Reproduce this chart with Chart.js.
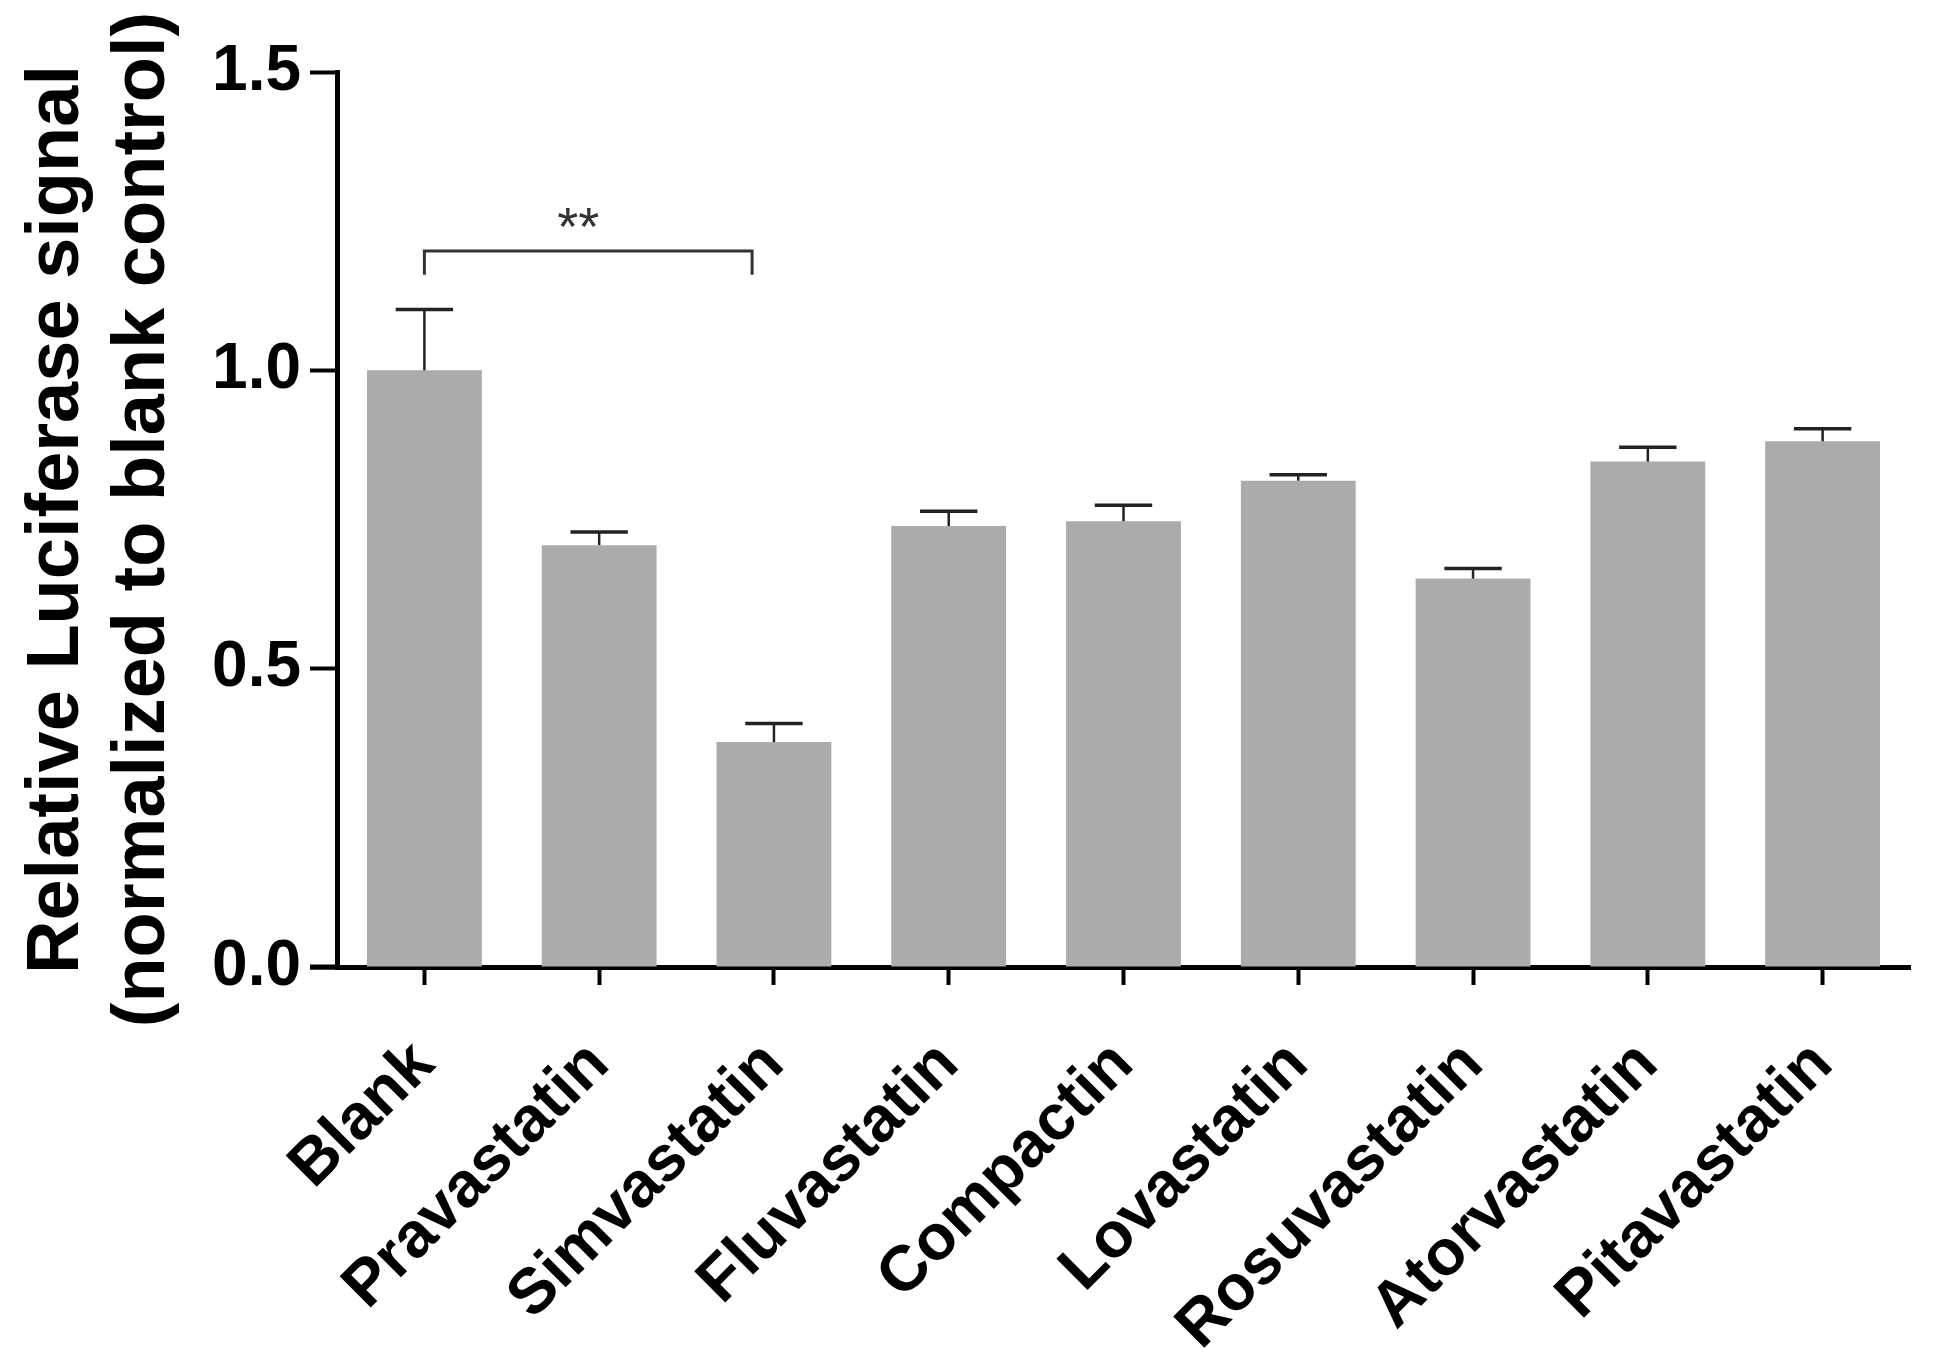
<!DOCTYPE html>
<html>
<head>
<meta charset="utf-8">
<script src="https://cdn.jsdelivr.net/npm/chart.js@4.4.1/dist/chart.umd.min.js"></script>
<style>
  html, body { margin: 0; padding: 0; background: #fff; }
  #wrap { width: 1937px; height: 1372px; }
</style>
</head>
<body>
<div id="wrap"><canvas id="chart"></canvas></div>
<script>
const categories = ['Blank', 'Pravastatin', 'Simvastatin', 'Fluvastatin', 'Compactin',
                    'Lovastatin', 'Rosuvastatin', 'Atorvastatin', 'Pitavastatin'];
const means = [1.0, 0.707, 0.377, 0.739, 0.747, 0.815, 0.651, 0.847, 0.881];
const errors = [0.102, 0.022, 0.031, 0.025, 0.027, 0.010, 0.017, 0.024, 0.021];
const yTicks = [0, 0.5, 1.0, 1.5];
// significance bracket: from category, to category, height, label
const sigFrom = 0, sigTo = 1.875, sigLevel = 1.2, sigDrop = 0.04, sigLabel = '**';

const FONT = '"Liberation Sans", Arial, Helvetica, sans-serif';

// error bars (upper only) and significance bracket
const extras = {
  id: 'extras',
  afterDatasetsDraw(chart) {
    const ctx = chart.ctx;
    const x = chart.scales.x, y = chart.scales.y;
    const meta = chart.getDatasetMeta(0);
    ctx.save();
    ctx.strokeStyle = '#222';
    meta.data.forEach(function(bar, i) {
      const top = y.getPixelForValue(means[i]);
      const end = y.getPixelForValue(means[i] + errors[i]);
      const half = bar.width / 4;
      ctx.lineWidth = 2.5;
      ctx.beginPath();
      ctx.moveTo(bar.x, top);
      ctx.lineTo(bar.x, end);
      ctx.stroke();
      ctx.lineWidth = 3.5;
      ctx.beginPath();
      ctx.moveTo(bar.x - half, end);
      ctx.lineTo(bar.x + half, end);
      ctx.stroke();
    });

    // bracket
    const x0 = x.getPixelForValue(sigFrom), x1 = x.getPixelForValue(sigTo);
    const yb = y.getPixelForValue(sigLevel), yd = y.getPixelForValue(sigLevel - sigDrop);
    ctx.strokeStyle = '#333';
    ctx.lineWidth = 3;
    ctx.beginPath();
    ctx.moveTo(x0, yd);
    ctx.lineTo(x0, yb);
    ctx.lineTo(x1, yb);
    ctx.lineTo(x1, yd);
    ctx.stroke();
    ctx.fillStyle = '#333';
    ctx.font = '54px ' + FONT;
    ctx.textAlign = 'center';
    ctx.textBaseline = 'alphabetic';
    ctx.fillText(sigLabel, (x0 + x1) / 2 - 10, yb - 6);

    // x axis line runs out to the end of the y ticks
    ctx.strokeStyle = '#000';
    ctx.lineWidth = 5;
    ctx.beginPath();
    ctx.moveTo(chart.chartArea.left - 27, chart.chartArea.bottom);
    ctx.lineTo(chart.chartArea.left, chart.chartArea.bottom);
    ctx.stroke();
    ctx.restore();
  }
};

new Chart(document.getElementById('chart'), {
  type: 'bar',
  data: {
    labels: categories,
    datasets: [{
      data: means,
      backgroundColor: '#ababab',
      borderWidth: 0,
      barPercentage: 0.657,
      categoryPercentage: 1.0
    }]
  },
  options: {
    responsive: true,
    maintainAspectRatio: false,
    devicePixelRatio: 1,
    animation: false,
    layout: { padding: { left: 0, top: 72, right: 27, bottom: 0 } },
    plugins: { legend: { display: false }, tooltip: { enabled: false } },
    scales: {
      x: {
        grid: { offset: false, drawOnChartArea: false, tickLength: 18, tickWidth: 4, tickColor: '#000' },
        border: { display: true, color: '#000', width: 5 },
        ticks: {
          color: '#000',
          font: { family: FONT, size: 64, weight: 'bold' },
          minRotation: 45, maxRotation: 45,
          padding: 42,
          autoSkip: false
        },
        afterFit(scale) { scale.height = 1372 - 967; }
      },
      y: {
        min: 0, max: 1.5,
        afterBuildTicks(scale) { scale.ticks = yTicks.map(v => ({ value: v })); },
        grid: { drawOnChartArea: false, tickLength: 27, tickWidth: 4, tickColor: '#000' },
        border: { display: true, color: '#000', width: 5 },
        ticks: {
          color: '#000',
          font: { family: FONT, size: 64, weight: 'bold' },
          padding: 9,
          callback: v => v.toFixed(1)
        },
        title: {
          display: true,
          text: ['Relative Luciferase signal', '(normalized to blank control)'],
          color: '#000',
          font: { family: FONT, size: 74, weight: 'bold', lineHeight: 1.17 },
          padding: { top: 14, bottom: 0 }
        },
        afterFit(scale) { scale.width = 337; }
      }
    }
  },
  plugins: [extras]
});
</script>
</body>
</html>
